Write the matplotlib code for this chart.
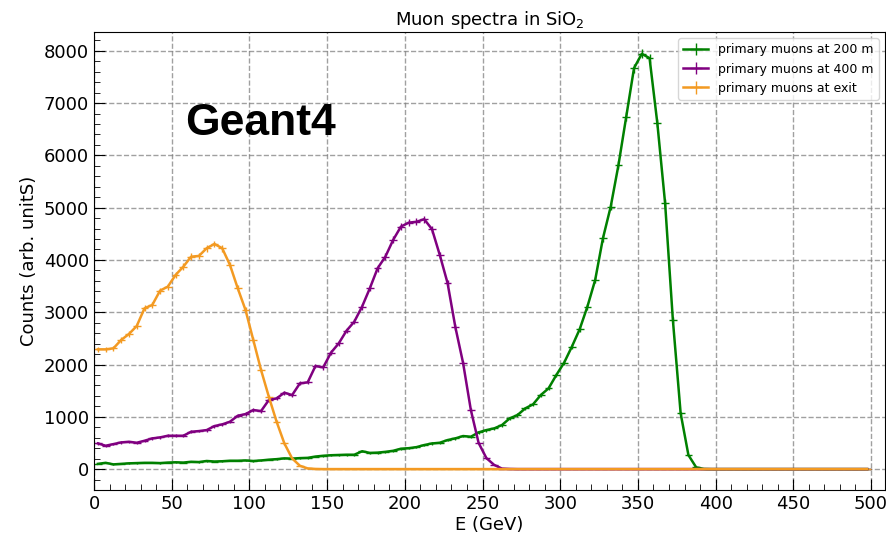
import numpy as np
import matplotlib.pyplot as plt
from matplotlib.ticker import MultipleLocator

# bin centres (5 GeV bins from 0 to 500)
energy = np.arange(2.5, 500, 5)

# primary muons at 200 m
counts_200m = [100, 120, 90, 100, 110, 115, 120, 120, 115, 125,
               130, 125, 140, 135, 155, 145, 150, 160, 160, 165,
               155, 165, 180, 190, 205, 200, 210, 215, 240, 255,
               265, 270, 275, 275, 340, 310, 315, 330, 350, 390,
               400, 420, 460, 490, 504, 555, 587, 632, 619, 702,
               746, 778, 842, 970, 1033, 1161, 1238, 1416, 1544, 1799,
               2034, 2341, 2673, 3107, 3617, 4415, 5020, 5818, 6742, 7669,
               7943, 7860, 6616, 5085, 2852, 1066, 268, 33, 3, 0,
               0, 0, 0, 0, 0, 0, 0, 0, 0, 0,
               0, 0, 0, 0, 0, 0, 0, 0, 0, 0]

# primary muons at 400 m
counts_400m = [491, 447, 478, 510, 523, 504, 542, 587, 606, 638,
               638, 638, 714, 727, 746, 823, 855, 906, 1020, 1052,
               1129, 1110, 1321, 1352, 1461, 1416, 1640, 1659, 1971, 1946,
               2227, 2405, 2647, 2820, 3107, 3458, 3841, 4063, 4383, 4638,
               4714, 4730, 4779, 4588, 4096, 3560, 2720, 2030, 1130, 500,
               210, 80, 10, 3, 0, 0, 0, 0, 0, 0,
               0, 0, 0, 0, 0, 0, 0, 0, 0, 0,
               0, 0, 0, 0, 0, 0, 0, 0, 0, 0,
               0, 0, 0, 0, 0, 0, 0, 0, 0, 0,
               0, 0, 0, 0, 0, 0, 0, 0, 0, 0]

# primary muons at exit
counts_exit = [2290, 2290, 2310, 2470, 2584, 2737, 3075, 3139, 3413, 3490,
               3713, 3872, 4063, 4077, 4224, 4306, 4224, 3904, 3458, 3043,
               2469, 1895, 1384, 906, 491, 204, 64, 13, 3, 0,
               0, 0, 0, 0, 0, 0, 0, 0, 0, 0,
               0, 0, 0, 0, 0, 0, 0, 0, 0, 0,
               0, 0, 0, 0, 0, 0, 0, 0, 0, 0,
               0, 0, 0, 0, 0, 0, 0, 0, 0, 0,
               0, 0, 0, 0, 0, 0, 0, 0, 0, 0,
               0, 0, 0, 0, 0, 0, 0, 0, 0, 0,
               0, 0, 0, 0, 0, 0, 0, 0, 0, 0]

series = [(counts_200m, 'green', 'primary muons at 200 m'),
          (counts_400m, 'purple', 'primary muons at 400 m'),
          (counts_exit, '#f39a22', 'primary muons at exit')]

fig = plt.figure(figsize=(8.86, 5.34), dpi=100)
ax = fig.add_axes([94/886, 44/534, 791/886, 458/534])

for counts, col, lab in series:
    c = np.array(counts, dtype=float)
    ax.errorbar(energy, c, xerr=2.5, yerr=np.sqrt(c), color=col, lw=1.8,
                elinewidth=1.0, capsize=0, label=lab)

ax.set_xlim(0, 509)
ax.set_ylim(-400, 8360)
ax.xaxis.set_major_locator(MultipleLocator(50))
ax.xaxis.set_minor_locator(MultipleLocator(10))
ax.yaxis.set_major_locator(MultipleLocator(1000))
ax.yaxis.set_minor_locator(MultipleLocator(200))
ax.tick_params(which='both', direction='in', labelsize=13)
ax.tick_params(which='major', length=8)
ax.tick_params(which='minor', length=4)
ax.grid(True, which='major', ls='--', color='gray', lw=1, alpha=0.75)

ax.set_xlabel('E (GeV)', fontsize=13, labelpad=2)
ax.set_ylabel('Counts (arb. unitS)', fontsize=13)
ax.set_title('Muon spectra in SiO$_2$', fontsize=13, pad=5)

ax.text(58.5, 6390, 'Geant4', fontsize=32, fontweight='bold',
        family='Liberation Sans', va='baseline')

ax.legend(loc='upper right', fontsize=9, handlelength=2)

fig.savefig('out.png', dpi=100)
